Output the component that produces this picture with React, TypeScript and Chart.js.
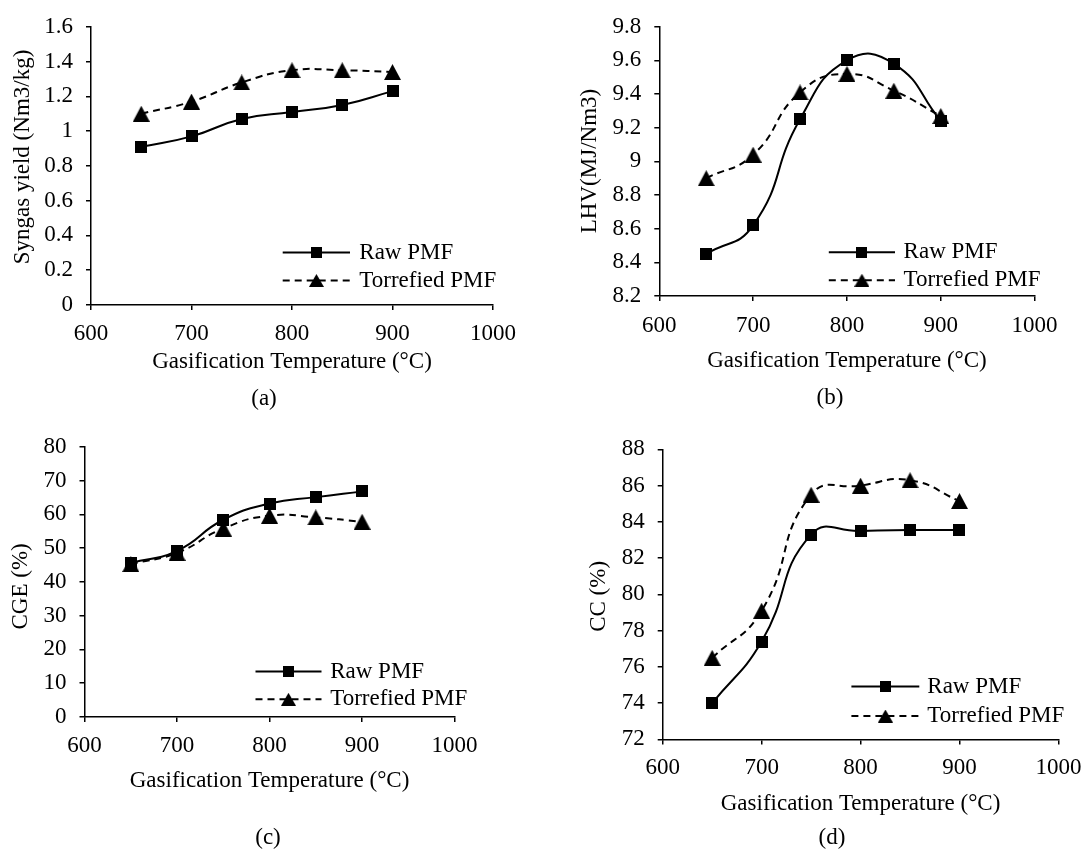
import React, { useEffect, useRef } from 'react';
import { Chart, registerables } from 'chart.js';

Chart.register(...registerables);

// ---------------- data ----------------
const temperatures = [650, 700, 750, 800, 850, 900];
const xTicks = [600, 700, 800, 900, 1000];
const seriesNames = ['Raw PMF', 'Torrefied PMF'];
const xTitle = 'Gasification Temperature (°C)';

const syngasRaw = [0.91, 0.97, 1.07, 1.11, 1.15, 1.23];
const syngasTorrefied = [1.1, 1.17, 1.28, 1.35, 1.35, 1.34];
const syngasTicks = [0, 0.2, 0.4, 0.6, 0.8, 1, 1.2, 1.4, 1.6];

const lhvRaw = [8.45, 8.62, 9.25, 9.6, 9.58, 9.24];
const lhvTorrefied = [8.9, 9.04, 9.41, 9.52, 9.42, 9.27];
const lhvTicks = [8.2, 8.4, 8.6, 8.8, 9, 9.2, 9.4, 9.6, 9.8];

const cgeRaw = [45.6, 49.2, 58.4, 63.2, 65.1, 66.8];
const cgeTorrefied = [45.3, 48.6, 55.8, 59.6, 59.1, 57.8];
const cgeTicks = [0, 10, 20, 30, 40, 50, 60, 70, 80];

const ccRaw = [74.0, 77.4, 83.3, 83.5, 83.55, 83.55];
const ccTorrefied = [76.5, 79.1, 85.5, 86.0, 86.3, 85.15];
const ccTicks = [72, 74, 76, 78, 80, 82, 84, 86, 88];

// ---------------- layout (positions / styles) ----------------
const FONT = '"Liberation Serif", "Times New Roman", serif';
const FS = 23;
const LH = FS * 1.2;

type PanelCfg = {
  key: string;
  left: number; top: number; width: number; height: number;
  area: { l: number; r: number; t: number; b: number };
  yTitle: string; yTitleX: number; yTitleY: number;
  xTitleY: number; xLabelY: number;
  raw: number[]; torr: number[]; ticks: number[];
  legend: { x1: number; x2: number; mx: number; tx: number; y1: number; y2: number };
  sub: { text: string; x: number; y: number };
};

const panels: PanelCfg[] = [
  {
    key: 'a', left: 0, top: 0, width: 545, height: 420,
    area: { l: 91, r: 493, t: 24, b: 305 },
    yTitle: 'Syngas yield (Nm3/kg)', yTitleX: 23.3, yTitleY: 157,
    xTitleY: 362, xLabelY: 334,
    raw: syngasRaw, torr: syngasTorrefied, ticks: syngasTicks,
    legend: { x1: 282.7, x2: 350, mx: 316.4, tx: 359.3, y1: 252.5, y2: 280.5 },
    sub: { text: '(a)', x: 264, y: 399 },
  },
  {
    key: 'b', left: 545, top: 0, width: 546, height: 420,
    area: { l: 114.3, r: 489.6, t: 23.3, b: 296 },
    yTitle: 'LHV(MJ/Nm3)', yTitleX: 45, yTitleY: 161,
    xTitleY: 360.7, xLabelY: 325.5,
    raw: lhvRaw, torr: lhvTorrefied, ticks: lhvTicks,
    legend: { x1: 283.8, x2: 350, mx: 316.9, tx: 358.6, y1: 252.3, y2: 280.2 },
    sub: { text: '(b)', x: 285, y: 397.7 },
  },
  {
    key: 'c', left: 0, top: 420, width: 545, height: 431,
    area: { l: 84.5, r: 454.6, t: 23.4, b: 297 },
    yTitle: 'CGE (%)', yTitleX: 20.9, yTitleY: 166.4,
    xTitleY: 361.2, xLabelY: 326,
    raw: cgeRaw, torr: cgeTorrefied, ticks: cgeTicks,
    legend: { x1: 255.5, x2: 321.5, mx: 288.5, tx: 330.2, y1: 251.5, y2: 279.3 },
    sub: { text: '(c)', x: 268, y: 418 },
  },
  {
    key: 'd', left: 545, top: 420, width: 546, height: 431,
    area: { l: 117.7, r: 518.8, t: 29.4, b: 319.4 },
    yTitle: 'CC (%)', yTitleX: 54, yTitleY: 176.4,
    xTitleY: 384, xLabelY: 347.8,
    raw: ccRaw, torr: ccTorrefied, ticks: ccTicks,
    legend: { x1: 306.4, x2: 374.3, mx: 340.4, tx: 382.3, y1: 266.6, y2: 296 },
    sub: { text: '(d)', x: 287, y: 418 },
  },
];

const LINE_W = 2;
const DASH = [7, 5];
const TICK_LEN = 5;

function makeMarker(kind: 'square' | 'triangle', w: number, h: number) {
  const c = document.createElement('canvas');
  c.width = w;
  c.height = h;
  const g = c.getContext('2d')!;
  g.fillStyle = '#000';
  if (kind === 'square') {
    g.fillRect(0, 0, w, h);
  } else {
    g.beginPath();
    g.moveTo(w / 2, 0);
    g.lineTo(w, h);
    g.lineTo(0, h);
    g.closePath();
    g.fill();
  }
  return c;
}

function Panel({ p }: { p: PanelCfg }) {
  const ref = useRef<HTMLCanvasElement>(null);

  useEffect(() => {
    const canvas = ref.current!;
    const square = makeMarker('square', 12, 12);
    const tri = makeMarker('triangle', 17, 16);
    const squareLeg = makeMarker('square', 11, 11);
    const triLeg = makeMarker('triangle', 15, 13);

    const { l, r, t, b } = p.area;
    const xAxisH = p.xTitleY - b + LH / 2;
    const padBottom = p.height - b - xAxisH;
    const xTickPad = p.xLabelY - b - TICK_LEN - LH / 2;

    const overlay = {
      id: 'overlay_' + p.key,
      afterDraw(chart: any) {
        const ctx: CanvasRenderingContext2D = chart.ctx;
        ctx.save();
        ctx.fillStyle = '#000';
        ctx.strokeStyle = '#000';
        ctx.font = `${FS}px ${FONT}`;
        ctx.textBaseline = 'middle';

        // y-axis title
        ctx.save();
        ctx.translate(p.yTitleX, p.yTitleY);
        ctx.rotate(-Math.PI / 2);
        ctx.textAlign = 'center';
        ctx.fillText(p.yTitle, 0, 0);
        ctx.restore();

        // legend
        const lg = p.legend;
        ctx.lineWidth = LINE_W;
        ctx.setLineDash([]);
        ctx.beginPath();
        ctx.moveTo(lg.x1, lg.y1);
        ctx.lineTo(lg.x2, lg.y1);
        ctx.stroke();
        ctx.drawImage(squareLeg, lg.mx - squareLeg.width / 2, lg.y1 - squareLeg.height / 2);
        ctx.setLineDash(DASH);
        ctx.beginPath();
        ctx.moveTo(lg.x1, lg.y2);
        ctx.lineTo(lg.x2, lg.y2);
        ctx.stroke();
        ctx.setLineDash([]);
        ctx.drawImage(triLeg, lg.mx - triLeg.width / 2, lg.y2 - triLeg.height / 2);
        ctx.textAlign = 'left';
        ctx.fillText(seriesNames[0], lg.tx, lg.y1);
        ctx.fillText(seriesNames[1], lg.tx, lg.y2);

        // sub label
        ctx.textAlign = 'center';
        ctx.fillText(p.sub.text, p.sub.x, p.sub.y);
        ctx.restore();
      },
    };

    const gridOpts = {
      display: true,
      drawOnChartArea: false,
      drawTicks: true,
      tickLength: TICK_LEN,
      color: '#000',
      lineWidth: 1.5,
    };
    const borderOpts = { display: true, color: '#000', width: 1.5 };
    const tickFont = { family: FONT, size: FS };

    const chart = new Chart(canvas, {
      type: 'line',
      data: {
        datasets: [
          {
            label: seriesNames[0],
            data: temperatures.map((x, i) => ({ x, y: p.raw[i] })),
            borderColor: '#000',
            backgroundColor: '#000',
            borderWidth: LINE_W,
            pointStyle: square as any,
            pointRadius: 6,
            tension: 0.5,
            fill: false,
            order: 1,
          },
          {
            label: seriesNames[1],
            data: temperatures.map((x, i) => ({ x, y: p.torr[i] })),
            borderColor: '#000',
            backgroundColor: '#000',
            borderWidth: LINE_W,
            borderDash: DASH,
            pointStyle: tri as any,
            pointRadius: 6,
            tension: 0.5,
            fill: false,
            order: 0,
          },
        ],
      },
      options: {
        responsive: false,
        animation: false,
        devicePixelRatio: 1,
        events: [],
        layout: { padding: { left: 0, top: t, right: p.width - r, bottom: padBottom } },
        plugins: { legend: { display: false }, tooltip: { enabled: false } },
        scales: {
          x: {
            type: 'linear',
            min: xTicks[0],
            max: xTicks[xTicks.length - 1],
            afterBuildTicks: (s: any) => {
              s.ticks = xTicks.map((v) => ({ value: v }));
            },
            afterFit: (s: any) => {
              s.height = xAxisH;
            },
            ticks: {
              padding: xTickPad,
              color: '#000',
              font: tickFont,
              maxRotation: 0,
              autoSkip: false,
              callback: (v: any) => String(v),
            },
            grid: gridOpts,
            border: borderOpts,
            title: {
              display: true,
              text: xTitle,
              color: '#000',
              font: tickFont,
              padding: { top: 0, bottom: 0 },
            },
          },
          y: {
            type: 'linear',
            min: p.ticks[0],
            max: p.ticks[p.ticks.length - 1],
            afterBuildTicks: (s: any) => {
              s.ticks = p.ticks.map((v) => ({ value: v }));
            },
            afterFit: (s: any) => {
              s.width = l;
            },
            ticks: {
              padding: 13,
              color: '#000',
              font: tickFont,
              autoSkip: false,
              callback: (v: any) => String(v),
            },
            grid: gridOpts,
            border: borderOpts,
          },
        },
      },
      plugins: [overlay],
    } as any);

    return () => chart.destroy();
  }, [p]);

  return (
    <canvas
      ref={ref}
      width={p.width}
      height={p.height}
      style={{
        position: 'absolute',
        left: p.left,
        top: p.top,
        width: p.width,
        height: p.height,
        display: 'block',
      }}
    />
  );
}

export default function App() {
  return (
    <div
      style={{
        position: 'fixed',
        left: 0,
        top: 0,
        width: 1091,
        height: 851,
        background: '#fff',
        overflow: 'hidden',
      }}
    >
      {panels.map((p) => (
        <Panel key={p.key} p={p} />
      ))}
    </div>
  );
}
